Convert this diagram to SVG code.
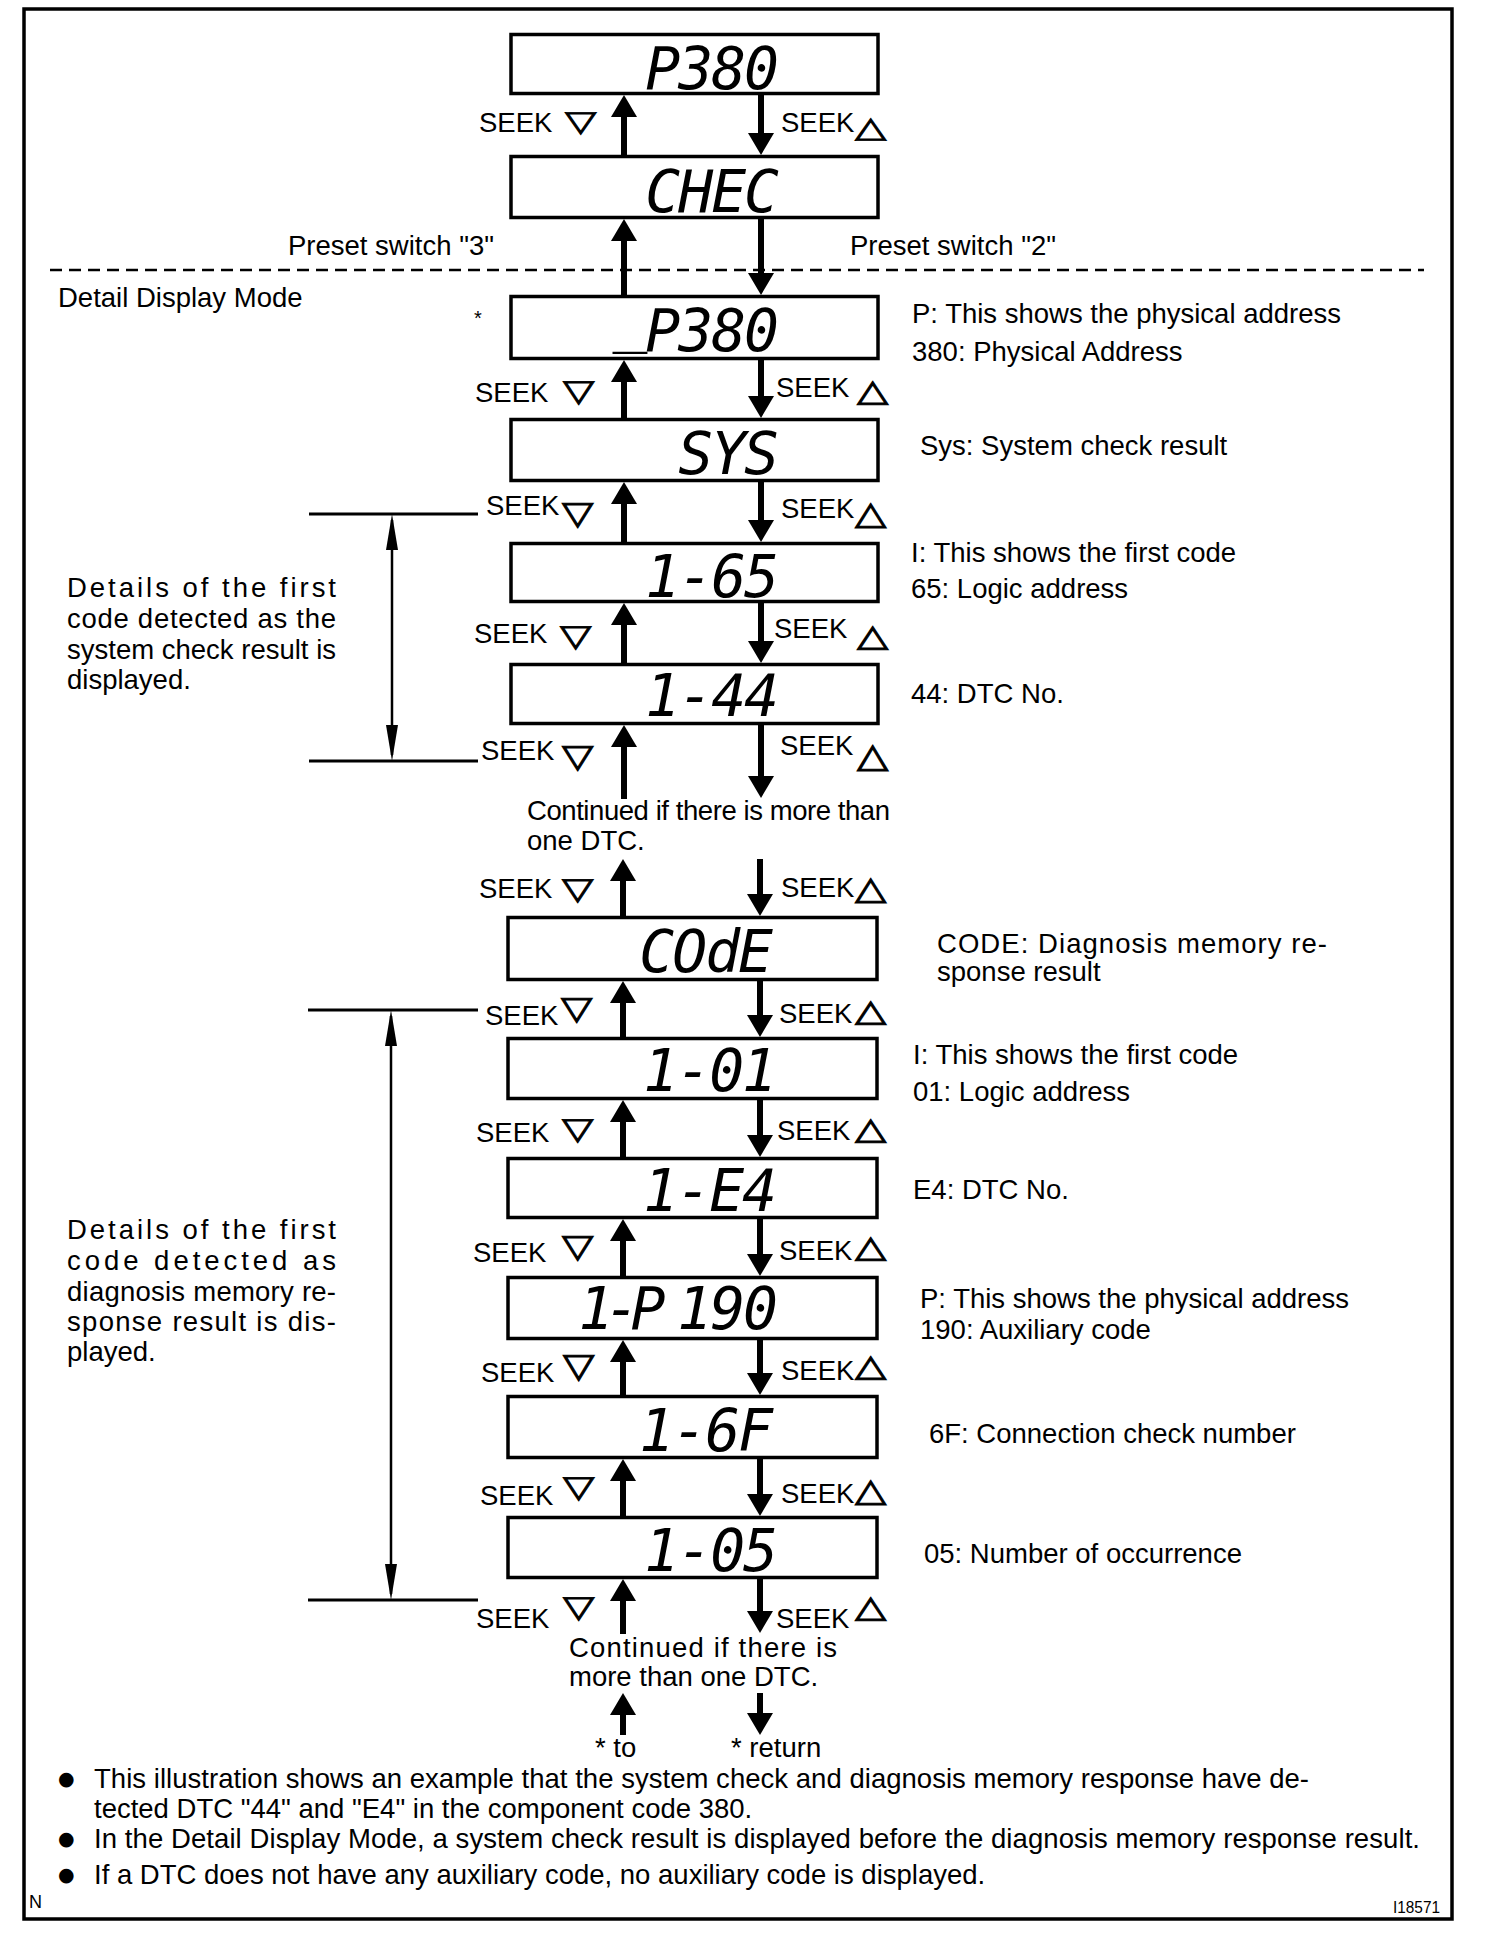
<svg xmlns="http://www.w3.org/2000/svg" width="1504" height="1944" viewBox="0 0 1504 1944">
<style>
.t{font-family:"Liberation Sans",Arial,sans-serif;font-size:27.5px;fill:#000}
.sk{font-family:"Liberation Sans",Arial,sans-serif;font-size:27.5px;fill:#000}
.tri{font-family:"DejaVu Sans",sans-serif;font-size:34px;fill:#000;stroke:#000;stroke-width:1}
.bul{font-family:"DejaVu Sans",sans-serif;font-size:19px;fill:#000}
.lcd{font-family:"DejaVu Sans Mono",monospace;font-style:oblique;font-size:58px;letter-spacing:-2px;text-anchor:end;fill:#000}
.box{fill:#fff;stroke:#000;stroke-width:3.5}
.arr{stroke:#000;stroke-width:6;fill:none;marker-end:url(#ah)}
.brk{stroke:#000;stroke-width:3;fill:none}
.dim{stroke:#000;stroke-width:2.5;fill:none;marker-start:url(#aht);marker-end:url(#aht)}
</style>
<defs>
<marker id="ah" viewBox="0 0 22 26" refX="10" refY="13" markerWidth="22" markerHeight="26" markerUnits="userSpaceOnUse" orient="auto"><path d="M0,0 L22,13 L0,26 z" fill="#000"/></marker>
<marker id="aht" viewBox="0 0 36 12" refX="30" refY="6" markerWidth="36" markerHeight="12" markerUnits="userSpaceOnUse" orient="auto-start-reverse"><path d="M0,0 L36,6 L0,12 z" fill="#000"/></marker>
</defs>
<rect x="0" y="0" width="1504" height="1944" fill="#fff"/>
<rect x="24" y="9" width="1428" height="1910" fill="none" stroke="#000" stroke-width="3.5"/>
<line x1="50" y1="270" x2="1424" y2="270" stroke="#000" stroke-width="2.5" stroke-dasharray="12 7"/>

<g id="connectors">
<path class="arr" d="M624,155 L624,107"/><path class="arr" d="M761,95 L761,143"/>
<path class="arr" d="M624,295 L624,231"/><path class="arr" d="M761,219 L761,283"/>
<path class="arr" d="M624,418 L624,372"/><path class="arr" d="M761,360 L761,406"/>
<path class="arr" d="M624,542 L624,494"/><path class="arr" d="M761,482 L761,530"/>
<path class="arr" d="M624,663 L624,615"/><path class="arr" d="M761,603 L761,651"/>
<path class="arr" d="M624,799 L624,737"/><path class="arr" d="M761,725 L761,786"/>
<path class="arr" d="M623,916 L623,871"/><path class="arr" d="M760,859 L760,904"/>
<path class="arr" d="M623,1037 L623,993"/><path class="arr" d="M760,981 L760,1025"/>
<path class="arr" d="M623,1157 L623,1112"/><path class="arr" d="M760,1100 L760,1145"/>
<path class="arr" d="M623,1276 L623,1231"/><path class="arr" d="M760,1219 L760,1264"/>
<path class="arr" d="M623,1395 L623,1352"/><path class="arr" d="M760,1340 L760,1383"/>
<path class="arr" d="M623,1516 L623,1471"/><path class="arr" d="M760,1459 L760,1504"/>
<path class="arr" d="M623,1634 L623,1591"/><path class="arr" d="M760,1579 L760,1621"/>
<path class="arr" d="M623,1735 L623,1705"/><path class="arr" d="M760,1693 L760,1723"/>
</g>

<g id="bracket1">
<line class="brk" x1="309" y1="514" x2="478" y2="514"/>
<line class="brk" x1="309" y1="761" x2="478" y2="761"/>
<line class="dim" x1="392" y1="520" x2="392" y2="755"/>
</g>
<g id="bracket2">
<line class="brk" x1="308" y1="1010" x2="478" y2="1010"/>
<line class="brk" x1="308" y1="1600" x2="478" y2="1600"/>
<line class="dim" x1="391" y1="1016" x2="391" y2="1594"/>
</g>

<g id="n1"><rect class="box" x="511" y="34.5" width="367" height="59"/><text class="lcd" x="777" y="89">P380</text></g>
<g id="n2"><rect class="box" x="511" y="156.5" width="367" height="61"/><text class="lcd" x="777" y="212">CHEC</text></g>
<g id="n3"><rect class="box" x="511" y="296.5" width="367" height="62"/><text class="lcd" x="777" y="351"><tspan dy="-11">_</tspan><tspan dy="11">P380</tspan></text></g>
<g id="n4"><rect class="box" x="511" y="419.5" width="367" height="61"/><text class="lcd" x="777" y="474">SYS</text></g>
<g id="n5"><rect class="box" x="511" y="543.5" width="367" height="58"/><text class="lcd" x="777" y="597">1-65</text></g>
<g id="n6"><rect class="box" x="511" y="664.5" width="367" height="59"/><text class="lcd" x="777" y="716">1-44</text></g>
<g id="n7"><rect class="box" x="508" y="917.5" width="369" height="62"/><text class="lcd" x="771" y="972">COdE</text></g>
<g id="n8"><rect class="box" x="508" y="1038.5" width="369" height="60"/><text class="lcd" x="775" y="1091">1-01</text></g>
<g id="n9"><rect class="box" x="508" y="1158.5" width="369" height="59"/><text class="lcd" x="775" y="1211">1-E4</text></g>
<g id="n10"><rect class="box" x="508" y="1277.5" width="369" height="61"/><text class="lcd" x="776" y="1329"><tspan style="letter-spacing:-9px">1-P</tspan><tspan dx="-12"> </tspan>190</text></g>
<g id="n11"><rect class="box" x="508" y="1396.5" width="369" height="61"/><text class="lcd" x="771" y="1451">1-6F</text></g>
<g id="n12"><rect class="box" x="508" y="1517.5" width="369" height="60"/><text class="lcd" x="776" y="1571">1-05</text></g>

<g id="seek-labels">
<text class="sk" x="479" y="132">SEEK</text><text class="tri" transform="translate(565,131) scale(1.2,0.85)">▽</text>
<text class="sk" x="781" y="132">SEEK</text><text class="tri" transform="translate(855,137) scale(1.2,0.85)">△</text>
<text class="sk" x="475" y="402">SEEK</text><text class="tri" transform="translate(563,401) scale(1.2,0.9)">▽</text>
<text class="sk" x="776" y="397">SEEK</text><text class="tri" transform="translate(857,401) scale(1.2,0.9)">△</text>
<text class="sk" x="486" y="515">SEEK</text><text class="tri" transform="translate(562,524) scale(1.2,0.95)">▽</text>
<text class="sk" x="781" y="518">SEEK</text><text class="tri" transform="translate(855,524) scale(1.2,0.95)">△</text>
<text class="sk" x="474" y="643">SEEK</text><text class="tri" transform="translate(560,646) scale(1.2,0.9)">▽</text>
<text class="sk" x="774" y="638">SEEK</text><text class="tri" transform="translate(857,646) scale(1.2,0.9)">△</text>
<text class="sk" x="481" y="760">SEEK</text><text class="tri" transform="translate(562,767) scale(1.2,0.95)">▽</text>
<text class="sk" x="780" y="755">SEEK</text><text class="tri" transform="translate(857,767) scale(1.2,1)">△</text>
<text class="sk" x="479" y="898">SEEK</text><text class="tri" transform="translate(562,899) scale(1.2,0.9)">▽</text>
<text class="sk" x="781" y="897">SEEK</text><text class="tri" transform="translate(855,899) scale(1.2,0.95)">△</text>
<text class="sk" x="485" y="1025">SEEK</text><text class="tri" transform="translate(561,1019) scale(1.2,0.95)">▽</text>
<text class="sk" x="779" y="1023">SEEK</text><text class="tri" transform="translate(855,1021) scale(1.2,0.9)">△</text>
<text class="sk" x="476" y="1142">SEEK</text><text class="tri" transform="translate(562,1139) scale(1.2,0.9)">▽</text>
<text class="sk" x="777" y="1140">SEEK</text><text class="tri" transform="translate(855,1139) scale(1.2,0.9)">△</text>
<text class="sk" x="473" y="1262">SEEK</text><text class="tri" transform="translate(562,1257) scale(1.2,0.95)">▽</text>
<text class="sk" x="779" y="1260">SEEK</text><text class="tri" transform="translate(855,1257) scale(1.2,0.9)">△</text>
<text class="sk" x="481" y="1382">SEEK</text><text class="tri" transform="translate(563,1377) scale(1.2,1)">▽</text>
<text class="sk" x="781" y="1380">SEEK</text><text class="tri" transform="translate(855,1376) scale(1.2,0.9)">△</text>
<text class="sk" x="480" y="1505">SEEK</text><text class="tri" transform="translate(563,1497) scale(1.2,0.9)">▽</text>
<text class="sk" x="781" y="1503">SEEK</text><text class="tri" transform="translate(855,1501) scale(1.2,0.95)">△</text>
<text class="sk" x="476" y="1628">SEEK</text><text class="tri" transform="translate(563,1617) scale(1.2,0.9)">▽</text>
<text class="sk" x="776" y="1628">SEEK</text><text class="tri" transform="translate(855,1617) scale(1.2,0.9)">△</text>
</g>

<g id="labels">
<text class="t" x="288" y="255">Preset switch "3"</text>
<text class="t" x="850" y="255">Preset switch "2"</text>
<text class="t" x="58" y="307">Detail Display Mode</text>
<text class="t" x="474" y="325" style="font-size:20px">*</text>

<text class="t" x="912" y="323">P: This shows the physical address</text>
<text class="t" x="912" y="361">380: Physical Address</text>
<text class="t" x="920" y="455">Sys: System check result</text>
<text class="t" x="911" y="562">I: This shows the first code</text>
<text class="t" x="911" y="598">65: Logic address</text>
<text class="t" x="911" y="703">44: DTC No.</text>
<text class="t" x="937" y="953" textLength="390" lengthAdjust="spacing">CODE: Diagnosis memory re-</text>
<text class="t" x="937" y="981">sponse result</text>
<text class="t" x="913" y="1064">I: This shows the first code</text>
<text class="t" x="913" y="1101">01: Logic address</text>
<text class="t" x="913" y="1199">E4: DTC No.</text>
<text class="t" x="920" y="1308">P: This shows the physical address</text>
<text class="t" x="920" y="1339">190: Auxiliary code</text>
<text class="t" x="929" y="1443">6F: Connection check number</text>
<text class="t" x="924" y="1563">05: Number of occurrence</text>

<text class="t" x="67" y="597" textLength="269" lengthAdjust="spacing">Details of the first</text>
<text class="t" x="67" y="628" textLength="269" lengthAdjust="spacing">code detected as the</text>
<text class="t" x="67" y="659" textLength="269" lengthAdjust="spacing">system check result is</text>
<text class="t" x="67" y="689">displayed.</text>

<text class="t" x="67" y="1239" textLength="269" lengthAdjust="spacing">Details of the first</text>
<text class="t" x="67" y="1270" textLength="269" lengthAdjust="spacing">code detected as</text>
<text class="t" x="67" y="1301" textLength="269" lengthAdjust="spacing">diagnosis memory re-</text>
<text class="t" x="67" y="1331" textLength="269" lengthAdjust="spacing">sponse result is dis-</text>
<text class="t" x="67" y="1361">played.</text>

<text class="t" x="527" y="820" textLength="363" lengthAdjust="spacing">Continued if there is more than</text>
<text class="t" x="527" y="850">one DTC.</text>
<text class="t" x="569" y="1657" textLength="268" lengthAdjust="spacing">Continued if there is</text>
<text class="t" x="569" y="1686">more than one DTC.</text>
<text class="t" x="595" y="1757">* to</text>
<text class="t" x="731" y="1757">* return</text>

<text class="bul" x="58" y="1785">●</text>
<text class="t" x="94" y="1788" textLength="1215" lengthAdjust="spacing">This illustration shows an example that the system check and diagnosis memory response have de-</text>
<text class="t" x="94" y="1818">tected DTC "44" and "E4" in the component code 380.</text>
<text class="bul" x="58" y="1845">●</text>
<text class="t" x="94" y="1848" textLength="1326" lengthAdjust="spacing">In the Detail Display Mode, a system check result is displayed before the diagnosis memory response result.</text>
<text class="bul" x="58" y="1881">●</text>
<text class="t" x="94" y="1884">If a DTC does not have any auxiliary code, no auxiliary code is displayed.</text>
<text class="t" x="29" y="1908" style="font-size:18px">N</text>
<text class="t" x="1393" y="1913" style="font-size:16px" textLength="47" lengthAdjust="spacingAndGlyphs">I18571</text>
</g>
</svg>
